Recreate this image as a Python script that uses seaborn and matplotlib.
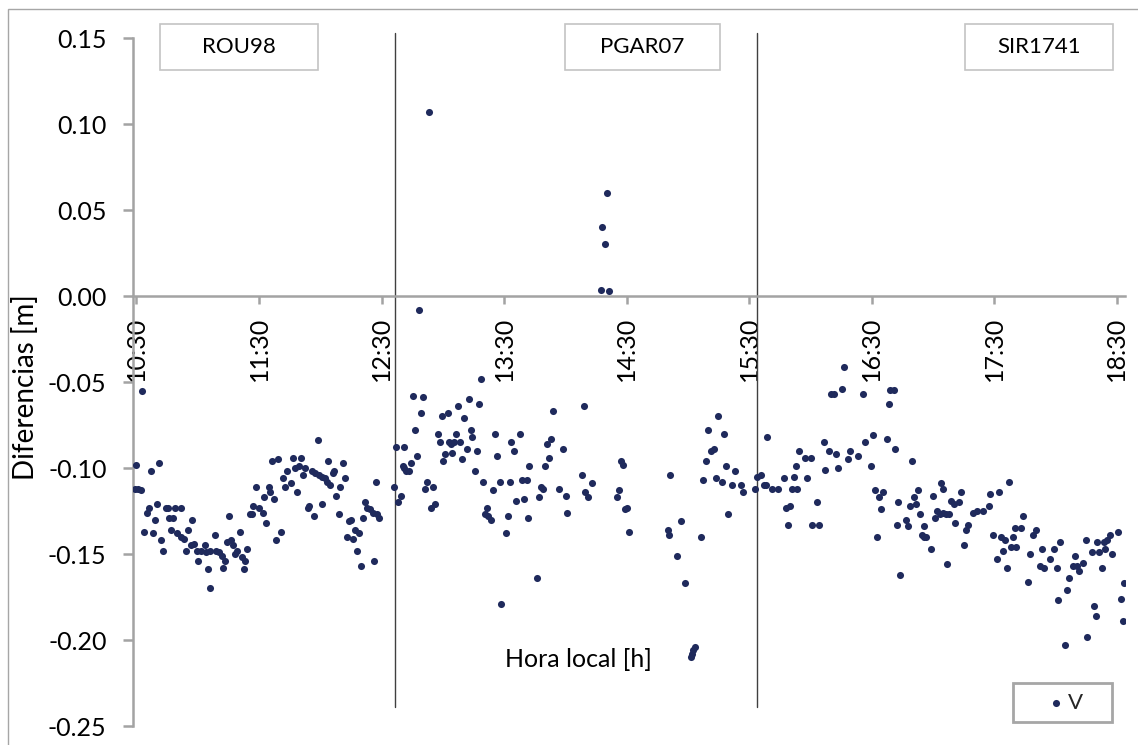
import numpy as np
import pandas as pd
import matplotlib
matplotlib.use("Agg")
import matplotlib.pyplot as plt
from matplotlib.patches import Rectangle
import seaborn as sns

# ---------------- data (time in minutes after midnight, differences in m) -------------
t_rou98 = [632.8, 629.6, 641.0, 636.9, 629.3, 630.9, 632.0, 636.1, 635.0, 640.0, 638.9, 644.3,
           645.3, 649.0, 651.9, 646.0, 648.0, 657.0, 633.8, 637.9, 646.9, 650.0, 651.6, 653.1,
           655.3, 642.0, 643.0, 654.2, 656.5, 658.1, 659.5, 661.4, 663.5, 664.0, 666.0, 668.3,
           668.8, 670.4, 671.7, 673.5, 672.5, 675.1, 674.4, 676.1, 677.4, 678.2, 679.3, 680.5,
           681.5, 683.1, 684.1, 682.5, 665.1, 660.1, 666.1, 688.3, 694.8, 692.4, 687.2, 690.0,
           692.1, 693.4, 685.5, 686.5, 697.4, 695.3, 700.6, 698.4, 696.5, 699.4, 701.5, 702.5,
           703.8, 705.6, 706.6, 708.5, 707.7, 709.7, 710.7, 711.6, 712.6, 713.8, 714.6, 715.7,
           716.7, 717.4, 719.5, 720.8, 722.1, 723.2, 724.7, 718.7, 720.8, 723.9, 726.0, 726.8,
           727.8, 729.0, 729.7, 730.9, 731.9, 734.0, 734.8, 733.0, 736.1, 736.9, 738.9, 738.1,
           740.0, 741.0, 742.0, 743.0, 744.3, 745.9, 747.6, 748.9, 747.1, 746.1]
v_rou98 = [-0.055, -0.098, -0.097, -0.102, -0.112, -0.112, -0.113, -0.123, -0.126, -0.121, -0.130, -0.123,
           -0.123, -0.123, -0.123, -0.129, -0.129, -0.130, -0.137, -0.138, -0.136, -0.138, -0.140, -0.141,
           -0.136, -0.142, -0.148, -0.148, -0.145, -0.144, -0.148, -0.148, -0.145, -0.149, -0.148, -0.139,
           -0.148, -0.149, -0.151, -0.154, -0.158, -0.128, -0.143, -0.142, -0.145, -0.150, -0.148, -0.137,
           -0.152, -0.154, -0.147, -0.159, -0.159, -0.154, -0.170, -0.111, -0.111, -0.117, -0.122, -0.123,
           -0.126, -0.132, -0.127, -0.127, -0.118, -0.114, -0.137, -0.142, -0.096, -0.095, -0.106, -0.111,
           -0.102, -0.109, -0.094, -0.114, -0.100, -0.099, -0.094, -0.104, -0.100, -0.123, -0.122, -0.102,
           -0.128, -0.103, -0.104, -0.105, -0.106, -0.108, -0.110, -0.084, -0.121, -0.096, -0.103, -0.102,
           -0.116, -0.127, -0.111, -0.097, -0.106, -0.131, -0.130, -0.140, -0.141, -0.136, -0.138, -0.148,
           -0.157, -0.129, -0.120, -0.123, -0.124, -0.126, -0.127, -0.129, -0.108, -0.154]

t_pgar07 = [757.0, 761.1, 756.2, 758.1, 759.3, 760.3, 762.2, 760.9, 763.2, 768.3, 773.2, 798.5,
            765.2, 770.2, 769.2, 766.3, 767.3, 764.3, 772.3, 771.3, 775.3, 774.1, 776.2, 777.4,
            778.4, 779.4, 782.4, 787.5, 792.6, 797.5, 790.4, 786.5, 782.9, 783.9, 785.4, 788.5,
            781.3, 784.4, 780.3, 789.4, 791.6, 793.6, 794.5, 796.6, 795.7, 799.7, 804.6, 801.5,
            800.6, 802.0, 803.6, 805.6, 806.6, 807.8, 812.8, 811.7, 810.7, 808.7, 813.6, 814.7,
            817.7, 815.7, 819.8, 818.8, 821.0, 821.5, 822.1, 833.8, 849.2, 833.0, 831.0, 831.9,
            838.9, 829.9, 828.0, 828.8, 827.0, 836.9, 840.2, 841.0, 826.0, 848.0, 849.8, 851.1,
            853.1, 858.0, 859.3, 857.2, 860.3, 861.2, 867.1, 868.2, 866.1, 865.2, 870.2, 869.4,
            871.2, 890.3, 890.8, 891.4, 896.5, 894.5, 898.4, 903.7, 902.7, 902.0, 901.4, 906.6,
            907.6, 908.7, 911.5, 912.6, 909.7, 914.7, 917.7, 913.6, 916.7, 918.8, 922.9, 919.8,
            921.8, 925.8, 926.8]
v_pgar07 = [-0.088, -0.088, -0.111, -0.120, -0.116, -0.099, -0.102, -0.100, -0.102, -0.008, 0.107, -0.048,
            -0.058, -0.059, -0.068, -0.078, -0.093, -0.097, -0.108, -0.112, -0.111, -0.123, -0.121, -0.080,
            -0.085, -0.070, -0.068, -0.064, -0.060, -0.063, -0.071, -0.080, -0.085, -0.086, -0.085, -0.085,
            -0.092, -0.091, -0.096, -0.095, -0.089, -0.078, -0.082, -0.090, -0.102, -0.108, -0.113, -0.123,
            -0.127, -0.128, -0.130, -0.080, -0.093, -0.108, -0.108, -0.128, -0.138, -0.179, -0.085, -0.090,
            -0.080, -0.119, -0.118, -0.107, -0.107, -0.129, -0.099, -0.067, -0.064, -0.083, -0.086, -0.094,
            -0.089, -0.099, -0.111, -0.112, -0.117, -0.112, -0.116, -0.126, -0.164, -0.104, -0.114, -0.117,
            -0.109, 0.040, 0.030, 0.0035, 0.060, 0.003, -0.096, -0.098, -0.113, -0.117, -0.123, -0.124,
            -0.137, -0.136, -0.139, -0.104, -0.131, -0.151, -0.167, -0.204, -0.206, -0.208, -0.210, -0.140,
            -0.107, -0.096, -0.090, -0.089, -0.078, -0.070, -0.080, -0.106, -0.108, -0.099, -0.102, -0.127,
            -0.110, -0.110, -0.114]

t_sir1741 = [932.8, 933.8, 936.0, 937.1, 938.4, 938.9, 941.0, 943.9, 947.0, 952.1, 953.1, 951.1,
             953.4, 948.2, 949.8, 949.0, 954.4, 957.2, 960.1, 958.2, 963.2, 960.9, 964.2, 966.5,
             967.3, 969.3, 972.3, 973.3, 970.2, 971.4, 975.4, 976.4, 978.4, 979.3, 983.4, 985.6,
             986.5, 990.4, 989.5, 991.6, 993.5, 995.5, 994.5, 992.4, 997.4, 1001.5, 998.8, 1000.7,
             998.6, 1003.0, 1002.3, 1003.7, 1009.7, 1006.6, 1007.7, 1008.7, 1010.7, 1011.8, 1012.8, 1013.8,
             1014.8, 1015.7, 1016.7, 1015.7, 1018.8, 1019.8, 1020.8, 1021.9, 1023.2, 1024.8, 1026.2, 1027.8,
             1023.9, 1024.8, 1026.8, 1029.0, 1030.1, 1030.9, 1032.9, 1033.8, 1035.0, 1036.0, 1037.1, 1039.7,
             1041.7, 1044.3, 1047.2, 1048.1, 1052.1, 1057.2, 1049.2, 1053.4, 1055.2, 1054.2, 1051.1, 1056.2,
             1058.1, 1060.8, 1059.1, 1060.3, 1063.2, 1064.2, 1069.2, 1070.4, 1067.3, 1066.3, 1073.3, 1072.2,
             1074.3, 1077.4, 1079.4, 1082.4, 1080.5, 1081.3, 1086.5, 1085.4, 1084.5, 1089.6, 1088.5, 1090.4,
             1091.6, 1093.6, 1094.7, 1097.6, 1095.5, 1098.6, 1099.6, 1100.5, 1101.5, 1103.5, 1104.4, 1105.4,
             1102.6, 1106.5, 1107.5, 1110.5, 1113.6, 1111.8, 1112.8]
v_sir1741 = [-0.112, -0.105, -0.104, -0.110, -0.110, -0.082, -0.112, -0.112, -0.106, -0.105, -0.099, -0.112,
             -0.112, -0.123, -0.122, -0.133, -0.090, -0.094, -0.094, -0.106, -0.120, -0.133, -0.133, -0.085,
             -0.101, -0.090, -0.092, -0.100, -0.057, -0.057, -0.054, -0.041, -0.095, -0.090, -0.093, -0.057,
             -0.085, -0.081, -0.099, -0.113, -0.117, -0.114, -0.124, -0.140, -0.083, -0.089, -0.0545, -0.0545,
             -0.063, -0.120, -0.133, -0.162, -0.096, -0.130, -0.134, -0.122, -0.117, -0.121, -0.113, -0.127,
             -0.139, -0.140, -0.140, -0.134, -0.147, -0.116, -0.129, -0.125, -0.127, -0.126, -0.127, -0.127,
             -0.109, -0.112, -0.156, -0.119, -0.121, -0.132, -0.120, -0.114, -0.145, -0.136, -0.133, -0.126,
             -0.125, -0.125, -0.122, -0.115, -0.114, -0.108, -0.139, -0.140, -0.142, -0.148, -0.153, -0.158,
             -0.146, -0.146, -0.140, -0.135, -0.135, -0.128, -0.139, -0.136, -0.150, -0.166, -0.147, -0.157,
             -0.158, -0.153, -0.147, -0.143, -0.158, -0.177, -0.164, -0.171, -0.203, -0.151, -0.157, -0.157,
             -0.160, -0.155, -0.142, -0.149, -0.198, -0.180, -0.186, -0.143, -0.149, -0.143, -0.147, -0.142,
             -0.158, -0.139, -0.150, -0.137, -0.167, -0.176, -0.189]

stations = ["ROU98", "PGAR07", "SIR1741"]
station_limits = [756.5, 933.7]          # station changes (minutes after midnight)
x_ticks = [630, 690, 750, 810, 870, 930, 990, 1050, 1110]
x_ticklabels = ["10:30", "11:30", "12:30", "13:30", "14:30", "15:30", "16:30", "17:30", "18:30"]
y_ticks = [0.15, 0.10, 0.05, 0.00, -0.05, -0.10, -0.15, -0.20, -0.25]

# ---------------- figure ----------------
sns.set_theme(style="white")
plt.rcParams["font.family"] = ["Lato", "DejaVu Sans"]

W, H = 1138, 745
fig = plt.figure(figsize=(W / 100, H / 100), dpi=100)
fig.patch.set_facecolor("white")

ax = fig.add_axes([133 / W, 1 - 726 / H, (1125 - 133) / W, (726 - 38) / H])
ax.set_facecolor("white")

df = pd.DataFrame({
    "hora": t_rou98 + t_pgar07 + t_sir1741,
    "V": v_rou98 + v_pgar07 + v_sir1741,
})
point_color = "#1f2a5c"
sns.scatterplot(data=df, x="hora", y="V", ax=ax, color=point_color, s=26,
                linewidth=0, label="V", zorder=3, legend=True)

ax.set_xlim(628.3, 1114.0)
ax.set_ylim(-0.25, 0.15)

axis_gray = "#a3a3a3"
for side in ["top", "right"]:
    ax.spines[side].set_visible(False)
ax.spines["bottom"].set_position(("data", 0))
for side in ["left", "bottom"]:
    ax.spines[side].set_color(axis_gray)
    ax.spines[side].set_linewidth(1.8)

ax.set_xticks(x_ticks)
ax.set_xticklabels(x_ticklabels)
ax.set_yticks(y_ticks)
ax.set_yticklabels([f"{v:.2f}" for v in y_ticks])
ax.tick_params(axis="x", direction="out", length=6, width=1.8, color=axis_gray,
               labelsize=18, labelrotation=90, pad=9, labelcolor="black", bottom=True)
ax.tick_params(axis="y", direction="out", length=7, width=1.8, color=axis_gray,
               labelsize=18, pad=12, labelcolor="black", left=True)

# station change lines
for xl in station_limits:
    ax.plot([xl, xl], [0.153, -0.239], color="#404040", lw=1.0, zorder=2, clip_on=False)

ax.set_xlabel("Hora local [h]", fontsize=18, color="black")
ax.xaxis.set_label_coords((578 - 133) / 992, (726 - 648) / 688)
ax.set_ylabel("Diferencias [m]", fontsize=20, color="black")
ax.yaxis.set_label_coords((39 - 133) / 992, (726 - 387) / 688)

# station name boxes (figure pixel layout)
boxes = [(160, 24, 318, 70), (565, 24, 720, 70), (965, 24, 1113, 70)]
for name, (x0, y0, x1, y1) in zip(stations, boxes):
    fig.patches.append(Rectangle((x0 / W, 1 - y1 / H), (x1 - x0) / W, (y1 - y0) / H,
                                 transform=fig.transFigure, fill=False,
                                 edgecolor="#c4c4c4", lw=1.2))
    fig.text((x0 + x1) / 2 / W, 1 - (y0 + y1) / 2 / H, name, ha="center", va="center",
             fontsize=16, color="black")

# chart outer border
fig.patches.append(Rectangle((8 / W, -0.1), 1.2, 1 - 9 / H + 0.1, transform=fig.transFigure,
                             fill=False, edgecolor="#a6a6a6", lw=1.0))

# legend
fig.patches.append(Rectangle((1013 / W, 1 - 722 / H), (1112 - 1013) / W, (722 - 683) / H,
                             transform=fig.transFigure, fill=False, edgecolor="#a6a6a6", lw=2.0))
leg = ax.legend(loc="center", bbox_to_anchor=(1066 / W, 1 - 703 / H),
                bbox_transform=fig.transFigure, frameon=False, fontsize=16,
                handlelength=0.6, handletextpad=0.25, borderpad=0.2)

fig.savefig("out.png", dpi=100, facecolor="white")
